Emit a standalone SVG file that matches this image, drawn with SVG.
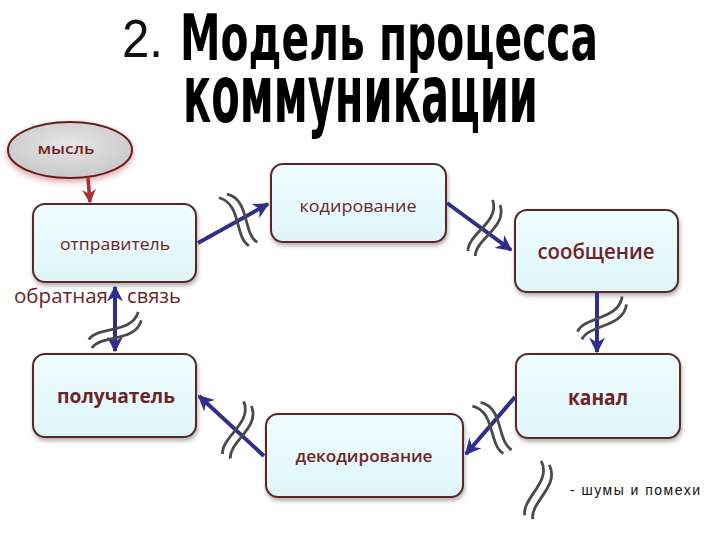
<svg xmlns="http://www.w3.org/2000/svg" width="720" height="540" viewBox="0 0 720 540">
<defs>
  <linearGradient id="nodeFill" x1="0" y1="0" x2="0" y2="1">
    <stop offset="0" stop-color="#effdff"/>
    <stop offset="1" stop-color="#def5f8"/>
  </linearGradient>
  <radialGradient id="thoughtFill" cx="0.5" cy="0.4" r="0.6">
    <stop offset="0" stop-color="#e6e6e6"/>
    <stop offset="1" stop-color="#c8c8c8"/>
  </radialGradient>
  <filter id="shadow" x="-10%" y="-10%" width="130%" height="140%">
    <feDropShadow dx="1" dy="3" stdDeviation="2" flood-color="#000" flood-opacity="0.3"/>
  </filter>
  <filter id="glow" x="-20%" y="-20%" width="140%" height="150%">
    <feDropShadow dx="0" dy="3" stdDeviation="3" flood-color="#b03030" flood-opacity="0.45"/>
  </filter>
  <marker id="blueHead" viewBox="0 0 10 10" refX="9" refY="5" markerWidth="4" markerHeight="4" orient="auto-start-reverse" markerUnits="strokeWidth">
    <path d="M0,0 L10,5 L0,10 L3,5 z" fill="#2e2e8e"/>
  </marker>
  <marker id="redHead" viewBox="0 0 10 10" refX="9" refY="5" markerWidth="4" markerHeight="4" orient="auto" markerUnits="strokeWidth">
    <path d="M0,0 L10,5 L0,10 L3,5 z" fill="#a83232"/>
  </marker>
  <g id="noise">
    <path d="M -9 -28 C 10 -14, -10 14, 0 28"/>
    <path d="M 0 -28 C 19 -14, -1 14, 9 28"/>
  </g>
  <style>
    .node { fill: url(#nodeFill); stroke: #5a2828; stroke-width: 2; filter: url(#shadow); }
    .lbl { font-family: "Open Sans", "Liberation Sans", sans-serif; fill: #6e2424; text-anchor: middle; font-weight: 600; }
    .flow { stroke: #2e2e8e; stroke-width: 4; fill: none; marker-end: url(#blueHead); }
    .nz { stroke: #4a4a4a; stroke-width: 2.8; fill: none; }
    .title { font-family: "DejaVu Sans", "Liberation Sans", sans-serif; font-weight: bold; fill: #000; }
  </style>
</defs>
<rect width="720" height="540" fill="#ffffff"/>

<g id="title">
  <text x="122" y="57" font-family="Liberation Sans, sans-serif" font-size="53" fill="#111" textLength="41" lengthAdjust="spacingAndGlyphs">2.</text>
  <text class="title" transform="translate(180,60) scale(1,1.35)" x="0" y="0" font-size="47" textLength="418" lengthAdjust="spacingAndGlyphs">Модель процесса</text>
  <text class="title" transform="translate(183,122) scale(1,1.55)" x="0" y="0" font-size="52" textLength="355" lengthAdjust="spacingAndGlyphs">коммуникации</text>
</g>

<g id="thought">
  <ellipse cx="70" cy="150" rx="62" ry="28" fill="url(#thoughtFill)" stroke="#6a1c1c" stroke-width="2" filter="url(#glow)"/>
  <text class="lbl" x="66" y="154" font-size="14" textLength="57" lengthAdjust="spacingAndGlyphs">мысль</text>
</g>

<g id="sender">
  <rect class="node" x="33" y="204" width="163" height="78" rx="12"/>
  <text class="lbl" x="115" y="250" font-size="17" textLength="110" lengthAdjust="spacingAndGlyphs" style="font-weight:normal">отправитель</text>
</g>
<g id="encoding">
  <rect class="node" x="271" y="164" width="175" height="78" rx="12"/>
  <text class="lbl" x="358" y="212" font-size="16" textLength="117" lengthAdjust="spacingAndGlyphs" style="font-weight:normal">кодирование</text>
</g>
<g id="message">
  <rect class="node" x="515" y="210" width="163" height="82" rx="12"/>
  <text class="lbl" x="596" y="259" font-size="21" textLength="117" lengthAdjust="spacingAndGlyphs">сообщение</text>
</g>
<g id="channel">
  <rect class="node" x="516" y="354" width="164" height="84" rx="12"/>
  <text class="lbl" x="598" y="405" font-size="21" textLength="60" lengthAdjust="spacingAndGlyphs" style="font-weight:bold">канал</text>
</g>
<g id="decoding">
  <rect class="node" x="266" y="414" width="197" height="83" rx="12"/>
  <text class="lbl" x="364" y="462" font-size="16" textLength="137" lengthAdjust="spacingAndGlyphs">декодирование</text>
</g>
<g id="receiver">
  <rect class="node" x="33" y="354" width="163" height="83" rx="12"/>
  <text class="lbl" x="116" y="403" font-size="19" textLength="118" lengthAdjust="spacingAndGlyphs" style="font-weight:bold">получатель</text>
</g>

<g id="connectors">
  <line x1="88" y1="178" x2="90" y2="202" stroke="#a83232" stroke-width="3.5" marker-end="url(#redHead)"/>
  <line class="flow" x1="198" y1="243" x2="268" y2="204"/>
  <line class="flow" x1="447" y1="203" x2="511" y2="250"/>
  <line class="flow" x1="597" y1="293" x2="597" y2="352"/>
  <line class="flow" x1="515" y1="397" x2="466" y2="454"/>
  <line class="flow" x1="264" y1="456" x2="199" y2="396"/>
  <line class="flow" x1="115" y1="287" x2="115" y2="351" marker-start="url(#blueHead)"/>
</g>

<g id="noise-marks" class="nz">
  <use href="#noise" transform="translate(238,220) rotate(-23)"/>
  <use href="#noise" transform="translate(484,228) rotate(35)"/>
  <use href="#noise" transform="translate(602,318) rotate(61)"/>
  <use href="#noise" transform="translate(492,428) rotate(-24)"/>
  <use href="#noise" transform="translate(237,430) rotate(31)"/>
  <use href="#noise" transform="translate(115,330) rotate(70)"/>
  <use href="#noise" transform="translate(537,490) rotate(26)"/>
</g>

<g id="feedback-label">
  <text x="14" y="303" font-family="Open Sans, Liberation Sans, sans-serif" font-size="20" fill="#6e2424" textLength="94" lengthAdjust="spacingAndGlyphs">обратная</text>
  <text x="127" y="303" font-family="Open Sans, Liberation Sans, sans-serif" font-size="20" fill="#6e2424" textLength="54" lengthAdjust="spacingAndGlyphs">связь</text>
</g>

<g id="legend">
  <text x="570" y="495" font-family="Liberation Sans, sans-serif" font-size="14" fill="#111" textLength="130" lengthAdjust="spacing">- шумы и помехи</text>
</g>
</svg>
